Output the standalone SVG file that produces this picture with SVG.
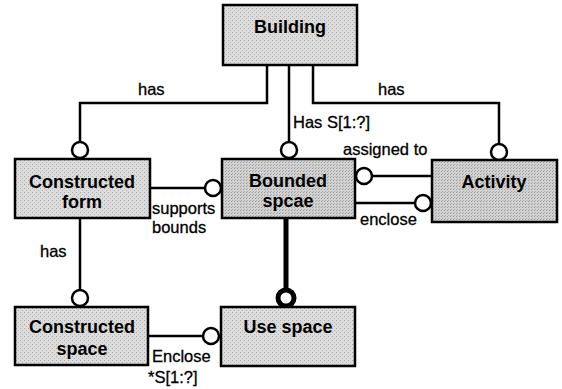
<svg xmlns="http://www.w3.org/2000/svg" width="562" height="389" viewBox="0 0 562 389">
<defs>
<pattern id="dots" width="4" height="4" patternUnits="userSpaceOnUse">
<rect width="4" height="4" fill="#dcdcdc"/>
<rect x="0" y="0" width="1" height="1" fill="#a8a8a8"/>
<rect x="2" y="2" width="1" height="1" fill="#b4b4b4"/>
</pattern>
<pattern id="dots2" width="3" height="3" patternUnits="userSpaceOnUse">
<rect width="3" height="3" fill="#d2d2d2"/>
<rect x="0" y="0" width="1" height="1" fill="#9a9a9a"/>
<rect x="1" y="2" width="1" height="1" fill="#aaaaaa"/>
</pattern>
</defs>
<style>
.box{fill:url(#dots);stroke:#000;stroke-width:2.5}
.box2{fill:url(#dots2);stroke:#000;stroke-width:2.5}
.nt{font-family:"Liberation Sans",Arial,sans-serif;font-weight:bold;font-size:18px;text-anchor:middle;fill:#000}
.lt{font-family:"Liberation Sans",Arial,sans-serif;font-size:16.5px;fill:#000;stroke:#000;stroke-width:0.3}
.ln{fill:none;stroke:#000;stroke-width:2.5}
.ck{fill:#fff;stroke:#000;stroke-width:2.5}
</style>
<g id="connectors">
<polyline class="ln" points="80,142 80,103 267,103 267,65"/>
<line class="ln" x1="289" y1="65" x2="289" y2="142"/>
<polyline class="ln" points="313,65 313,103 499,103 499,144"/>
<line class="ln" x1="372" y1="176" x2="432" y2="176"/>
<line class="ln" x1="355" y1="203" x2="415" y2="203"/>
<line class="ln" x1="150" y1="188" x2="205" y2="188"/>
<line class="ln" x1="286" y1="218" x2="286" y2="289" style="stroke-width:5"/>
<line class="ln" x1="80" y1="218" x2="80" y2="290"/>
<line class="ln" x1="148" y1="336" x2="203" y2="336"/>
<circle class="ck" cx="80" cy="150" r="8"/>
<circle class="ck" cx="289" cy="150" r="8"/>
<circle class="ck" cx="499" cy="152" r="8"/>
<circle class="ck" cx="364" cy="176" r="8"/>
<circle class="ck" cx="423" cy="203" r="8"/>
<circle class="ck" cx="213" cy="188" r="8"/>
<circle class="ck" cx="286" cy="298" r="8" style="stroke-width:5"/>
<circle class="ck" cx="80" cy="298" r="8"/>
<circle class="ck" cx="211" cy="336" r="8"/>
<text class="lt" x="138" y="95">has</text>
<text class="lt" x="378" y="95">has</text>
<text class="lt" x="293" y="128">Has S[1:?]</text>
<text class="lt" x="343" y="155">assigned to</text>
<text class="lt" x="360" y="225">enclose</text>
<text class="lt" x="152" y="214">supports</text>
<text class="lt" x="152" y="233">bounds</text>
<text class="lt" x="40" y="257">has</text>
<text class="lt" x="152" y="362">Enclose</text>
<text class="lt" x="148" y="383">*S[1:?]</text>
</g>
<g id="building"><rect class="box" x="223" y="5" width="134" height="60"/><text class="nt" x="290" y="33">Building</text></g>
<g id="constructed-form"><rect class="box" x="15" y="159" width="135" height="59"/><text class="nt" x="82" y="188">Constructed</text><text class="nt" x="82" y="208">form</text></g>
<g id="bounded-spcae"><rect class="box2" x="222" y="159" width="133" height="59"/><text class="nt" x="288" y="187">Bounded</text><text class="nt" x="288" y="207">spcae</text></g>
<g id="activity"><rect class="box2" x="432" y="160" width="125" height="62"/><text class="nt" x="494" y="188">Activity</text></g>
<g id="constructed-space"><rect class="box" x="15" y="307" width="133" height="58"/><text class="nt" x="82" y="333">Constructed</text><text class="nt" x="82" y="355">space</text></g>
<g id="use-space"><rect class="box" x="221" y="307" width="134" height="59"/><text class="nt" x="288" y="333">Use space</text></g>
</svg>
